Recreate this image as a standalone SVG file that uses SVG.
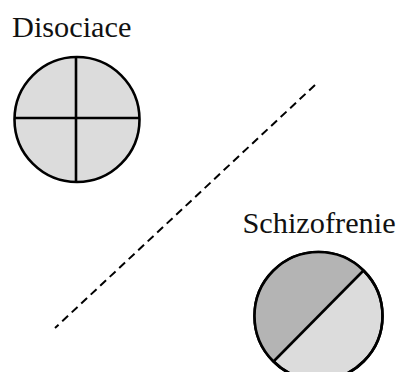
<svg xmlns="http://www.w3.org/2000/svg" width="398" height="372" viewBox="0 0 398 372">
<style>
.lbl{font-family:"Liberation Serif","Times New Roman",serif;font-size:30.3px;fill:#111}
.c{stroke:#000;stroke-width:2.6}
.ln{stroke:#000;stroke-width:2.6;fill:none}
</style>
<rect width="398" height="372" fill="#fff"/>
<g id="connectors">
<line x1="315" y1="85" x2="55" y2="328" stroke="#000" stroke-width="2" stroke-dasharray="8,5"/>
</g>
<g id="disociace">
<text class="lbl" x="12" y="37">Disociace</text>
<circle class="c" cx="77" cy="119.5" r="62.5" fill="#dcdcdc"/>
<line class="ln" x1="76" y1="57" x2="76" y2="182"/>
<line class="ln" x1="14.5" y1="118" x2="139.5" y2="118"/>
</g>
<g id="schizofrenie">
<text class="lbl" x="242.5" y="233">Schizofrenie</text>
<circle class="c" cx="318.5" cy="316" r="64" fill="#dcdcdc"/>
<path d="M363.5,270.5 A64,64 0 0 0 273.5,361.5 Z" fill="#b4b4b4"/>
<circle cx="318.5" cy="316" r="64" fill="none" stroke="#000" stroke-width="2.6"/>
<line class="ln" x1="363.5" y1="270.5" x2="273.5" y2="361.5"/>
</g>
</svg>
